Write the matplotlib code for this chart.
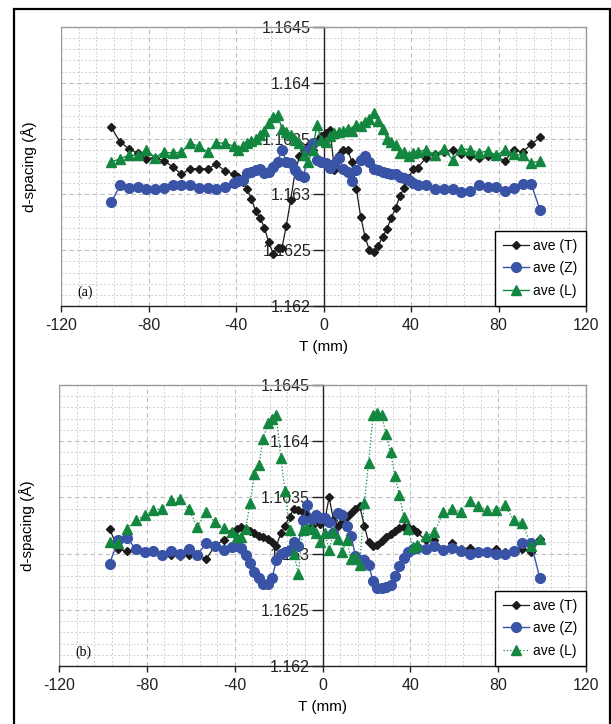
import matplotlib
matplotlib.use("Agg")
import matplotlib.pyplot as plt
from matplotlib.patches import Rectangle
from matplotlib.ticker import MultipleLocator, FuncFormatter

plt.rcParams['font.family'] = ['Liberation Sans', 'DejaVu Sans']
plt.rcParams['axes.unicode_minus'] = False

# positions (mm)
pos = [-97, -93, -89, -85, -81, -77, -73, -69, -65, -61, -57, -53, -49, -45, -41,
       -39, -37, -35, -33, -31, -29, -27, -25, -23, -21, -19, -17, -15, -13, -11,
       -9, -7, -5, -3, -1, 1, 3, 5, 7, 9, 11, 13, 15, 17, 19, 21, 23, 25, 27, 29,
       31, 33, 35, 37, 39, 41, 43, 47, 51, 55, 59, 63, 67, 71, 75, 79, 83, 87, 91, 95, 99]

# panel (a)
a_T = [1.16360, 1.16347, 1.16341, 1.16337, 1.16332, 1.16333, 1.16330, 1.16325, 1.16318, 1.16323,
       1.16323, 1.16323, 1.16327, 1.16321, 1.16318, 1.16316, 1.16311, 1.16305, 1.16296, 1.16285,
       1.16279, 1.16270, 1.16257, 1.16247, 1.16252, 1.16252, 1.16272, 1.16295, 1.16320, 1.16334,
       1.16340, 1.16343, 1.16340, 1.16348, 1.16352, 1.16355, 1.16358, 1.16322, 1.16335, 1.16340,
       1.16340, 1.16329, 1.16305, 1.16280, 1.16262, 1.16250, 1.16248, 1.16254, 1.16262, 1.16269,
       1.16279, 1.16288, 1.16299, 1.16306, 1.16315, 1.16323, 1.16324, 1.16333, 1.16336, 1.16338,
       1.16340, 1.16336, 1.16334, 1.16333, 1.16334, 1.16334, 1.16330, 1.16340, 1.16338, 1.16345, 1.16351]
a_Z = [1.16293, 1.16308, 1.16306, 1.16307, 1.16305, 1.16305, 1.16306, 1.16308, 1.16308, 1.16308,
       1.16306, 1.16306, 1.16305, 1.16307, 1.16310, 1.16312, 1.16313, 1.16319, 1.16320, 1.16322,
       1.16323, 1.16319, 1.16320, 1.16325, 1.16329, 1.16340, 1.16329, 1.16328, 1.16322, 1.16317,
       1.16316, 1.16340, 1.16346, 1.16331, 1.16329, 1.16328, 1.16324, 1.16327, 1.16333, 1.16323,
       1.16320, 1.16312, 1.16322, 1.16331, 1.16334, 1.16329, 1.16323, 1.16322, 1.16320, 1.16319,
       1.16318, 1.16318, 1.16316, 1.16315, 1.16313, 1.16310, 1.16308, 1.16308, 1.16305, 1.16305,
       1.16305, 1.16302, 1.16303, 1.16308, 1.16307, 1.16307, 1.16303, 1.16306, 1.16309, 1.16309, 1.16286]
a_L = [1.16329, 1.16332, 1.16335, 1.16335, 1.16340, 1.16333, 1.16338, 1.16337, 1.16338, 1.16346,
       1.16343, 1.16338, 1.16346, 1.16346, 1.16343, 1.16340, 1.16343, 1.16346, 1.16348, 1.16350,
       1.16353, 1.16357, 1.16364, 1.16369, 1.16371, 1.16359, 1.16356, 1.16353, 1.16349, 1.16346,
       1.16335, 1.16329, 1.16340, 1.16362, 1.16349, 1.16347, 1.16352, 1.16355, 1.16356, 1.16357,
       1.16359, 1.16357, 1.16362, 1.16361, 1.16365, 1.16368, 1.16373, 1.16366, 1.16359, 1.16350,
       1.16347, 1.16344, 1.16337, 1.16338, 1.16334, 1.16337, 1.16338, 1.16340, 1.16335, 1.16341,
       1.16331, 1.16341, 1.16340, 1.16337, 1.16339, 1.16335, 1.16340, 1.16336, 1.16335, 1.16328, 1.16330]

# panel (b)
b_T = [1.16322, 1.16304, 1.16302, 1.16304, 1.16301, 1.16301, 1.16300, 1.16299, 1.16298, 1.16299,
       1.16300, 1.16295, 1.16307, 1.16312, 1.16319, 1.16322, 1.16324, 1.16322, 1.16320, 1.16318,
       1.16316, 1.16315, 1.16313, 1.16310, 1.16307, 1.16318, 1.16325, 1.16333, 1.16340, 1.16339,
       1.16337, 1.16334, 1.16325, 1.16331, 1.16326, 1.16329, 1.16350, 1.16330, 1.16325, 1.16328,
       1.16333, 1.16336, 1.16340, 1.16342, 1.16325, 1.16310, 1.16307, 1.16308, 1.16311, 1.16315,
       1.16317, 1.16320, 1.16323, 1.16324, 1.16324, 1.16322, 1.16319, 1.16312, 1.16312, 1.16304,
       1.16309, 1.16304, 1.16305, 1.16301, 1.16301, 1.16304, 1.16301, 1.16303, 1.16304, 1.16301, 1.16313]
b_Z = [1.16291, 1.16312, 1.16314, 1.16304, 1.16301, 1.16302, 1.16299, 1.16302, 1.16300, 1.16304,
       1.16299, 1.16309, 1.16307, 1.16303, 1.16306, 1.16307, 1.16305, 1.16299, 1.16292, 1.16284,
       1.16278, 1.16273, 1.16273, 1.16278, 1.16294, 1.16300, 1.16301, 1.16303, 1.16310, 1.16307,
       1.16330, 1.16343, 1.16331, 1.16334, 1.16332, 1.16332, 1.16328, 1.16318, 1.16336, 1.16334,
       1.16325, 1.16316, 1.16298, 1.16294, 1.16294, 1.16290, 1.16276, 1.16269, 1.16269, 1.16270,
       1.16272, 1.16280, 1.16289, 1.16296, 1.16301, 1.16304, 1.16305, 1.16304, 1.16307, 1.16303,
       1.16305, 1.16302, 1.16300, 1.16301, 1.16301, 1.16300, 1.16300, 1.16302, 1.16309, 1.16309, 1.16278]
b_L = [1.16310, 1.16309, 1.16322, 1.16330, 1.16334, 1.16339, 1.16340, 1.16348, 1.16349, 1.16340,
       1.16324, 1.16337, 1.16328, 1.16323, 1.16319, 1.16315, 1.16315, 1.16322, 1.16345, 1.16371,
       1.16379, 1.16402, 1.16416, 1.16420, 1.16423, 1.16385, 1.16356, 1.16321, 1.16300, 1.16282,
       1.16321, 1.16323, 1.16322, 1.16318, 1.16310, 1.16318, 1.16303, 1.16319, 1.16313, 1.16301,
       1.16312, 1.16295, 1.16297, 1.16290, 1.16345, 1.16381, 1.16423, 1.16425, 1.16423, 1.16406,
       1.16390, 1.16369, 1.16352, 1.16333, 1.16322, 1.16306, 1.16308, 1.16316, 1.16319, 1.16337,
       1.16340, 1.16337, 1.16347, 1.16342, 1.16339, 1.16339, 1.16343, 1.16330, 1.16327, 1.16307, 1.16313]

labels = ["ave (T)", "ave (Z)", "ave (L)"]
panel_tags = ["(a)", "(b)"]
xticks = [-120, -80, -40, 0, 40, 80, 120]
yticks = [1.162, 1.1625, 1.163, 1.1635, 1.164, 1.1645]

C_T = "#1c1a1b"
C_Z = "#3953a6"
C_L = "#13873f"
GRID_MAJ = "#c0c0c0"
GRID_MIN = "#d2d2d2"

W, H = 611, 724
fig = plt.figure(figsize=(W / 100, H / 100), dpi=100)
fig.patches.append(Rectangle((14 / W, -0.02), (609.5 - 14) / W, (H - 9) / H + 0.02,
                             transform=fig.transFigure, fill=False, edgecolor="black",
                             linewidth=1.6))

ax1 = fig.add_axes([61 / W, 1 - 306 / H, 525 / W, 279 / H])
ax2 = fig.add_axes([59 / W, 1 - 666 / H, 527 / W, 281 / H])

panels = [(ax1, a_T, a_Z, a_L, "-"), (ax2, b_T, b_Z, b_L, ":")]

for i, (ax, T, Z, L, lstyle) in enumerate(panels):
    ax.set_xlim(-120, 120)
    ax.set_ylim(1.162, 1.1645)
    ax.xaxis.set_minor_locator(MultipleLocator(8))
    ax.yaxis.set_minor_locator(MultipleLocator(0.0001))
    ax.set_yticks(yticks)
    ax.set_xticks(xticks)
    ax.yaxis.set_major_formatter(FuncFormatter(lambda v, p: f"{v:.5g}"))
    ax.grid(which="major", color=GRID_MAJ, linestyle=(0, (4, 3)), linewidth=0.8)
    ax.grid(which="minor", color=GRID_MIN, linestyle=(0, (2, 2)), linewidth=0.7)
    ax.set_axisbelow(True)

    for s in ["top", "right"]:
        ax.spines[s].set_color("#9a9a9a")
        ax.spines[s].set_linewidth(1.0)
    ax.spines["left"].set_position(("data", 0))
    ax.spines["left"].set_color("#222222")
    ax.spines["left"].set_linewidth(1.0)
    ax.spines["bottom"].set_color("#222222")
    ax.spines["bottom"].set_linewidth(1.0)
    ax.axvline(-120, color="#9a9a9a", linewidth=1.0, zorder=1.6)

    ax.tick_params(axis="y", which="major", direction="out", length=8, width=1,
                   labelsize=11.5, pad=1, colors="#222222")
    ax.tick_params(axis="x", which="major", direction="out", length=4, width=1,
                   labelsize=11.5, pad=5, colors="#222222")
    ax.tick_params(which="minor", length=0)

    ax.plot(pos, T, color=C_T, marker="D", markersize=4, linewidth=0.9, label=labels[0], zorder=3)
    ax.plot(pos, Z, color=C_Z, marker="o", markersize=7, linewidth=1.0, label=labels[1], zorder=3)
    ax.plot(pos, L, color=C_L, marker="^", markersize=6.5, linewidth=1.0 if lstyle == "-" else 0.9,
            linestyle=lstyle, label=labels[2], zorder=3)

    ax.set_xlabel("T (mm)", fontsize=11, labelpad=5)
    ax.set_ylabel("d-spacing (Å)", fontsize=11)
    ax.yaxis.set_label_coords(-0.046, 0.5)

    leg = ax.legend(loc="lower right", bbox_to_anchor=(1.0, 0.0), borderaxespad=0.0,
                    fancybox=False, edgecolor="black", framealpha=1, fontsize=10,
                    handlelength=1.9, labelspacing=0.6, borderpad=0.6, handletextpad=0.3)
    leg.get_frame().set_linewidth(1.0)

    ax.text(0.032, 0.048, panel_tags[i], transform=ax.transAxes, fontsize=10,
            family=["Liberation Serif", "DejaVu Serif"], ha="left", va="center")

fig.savefig("out.png", dpi=100)
